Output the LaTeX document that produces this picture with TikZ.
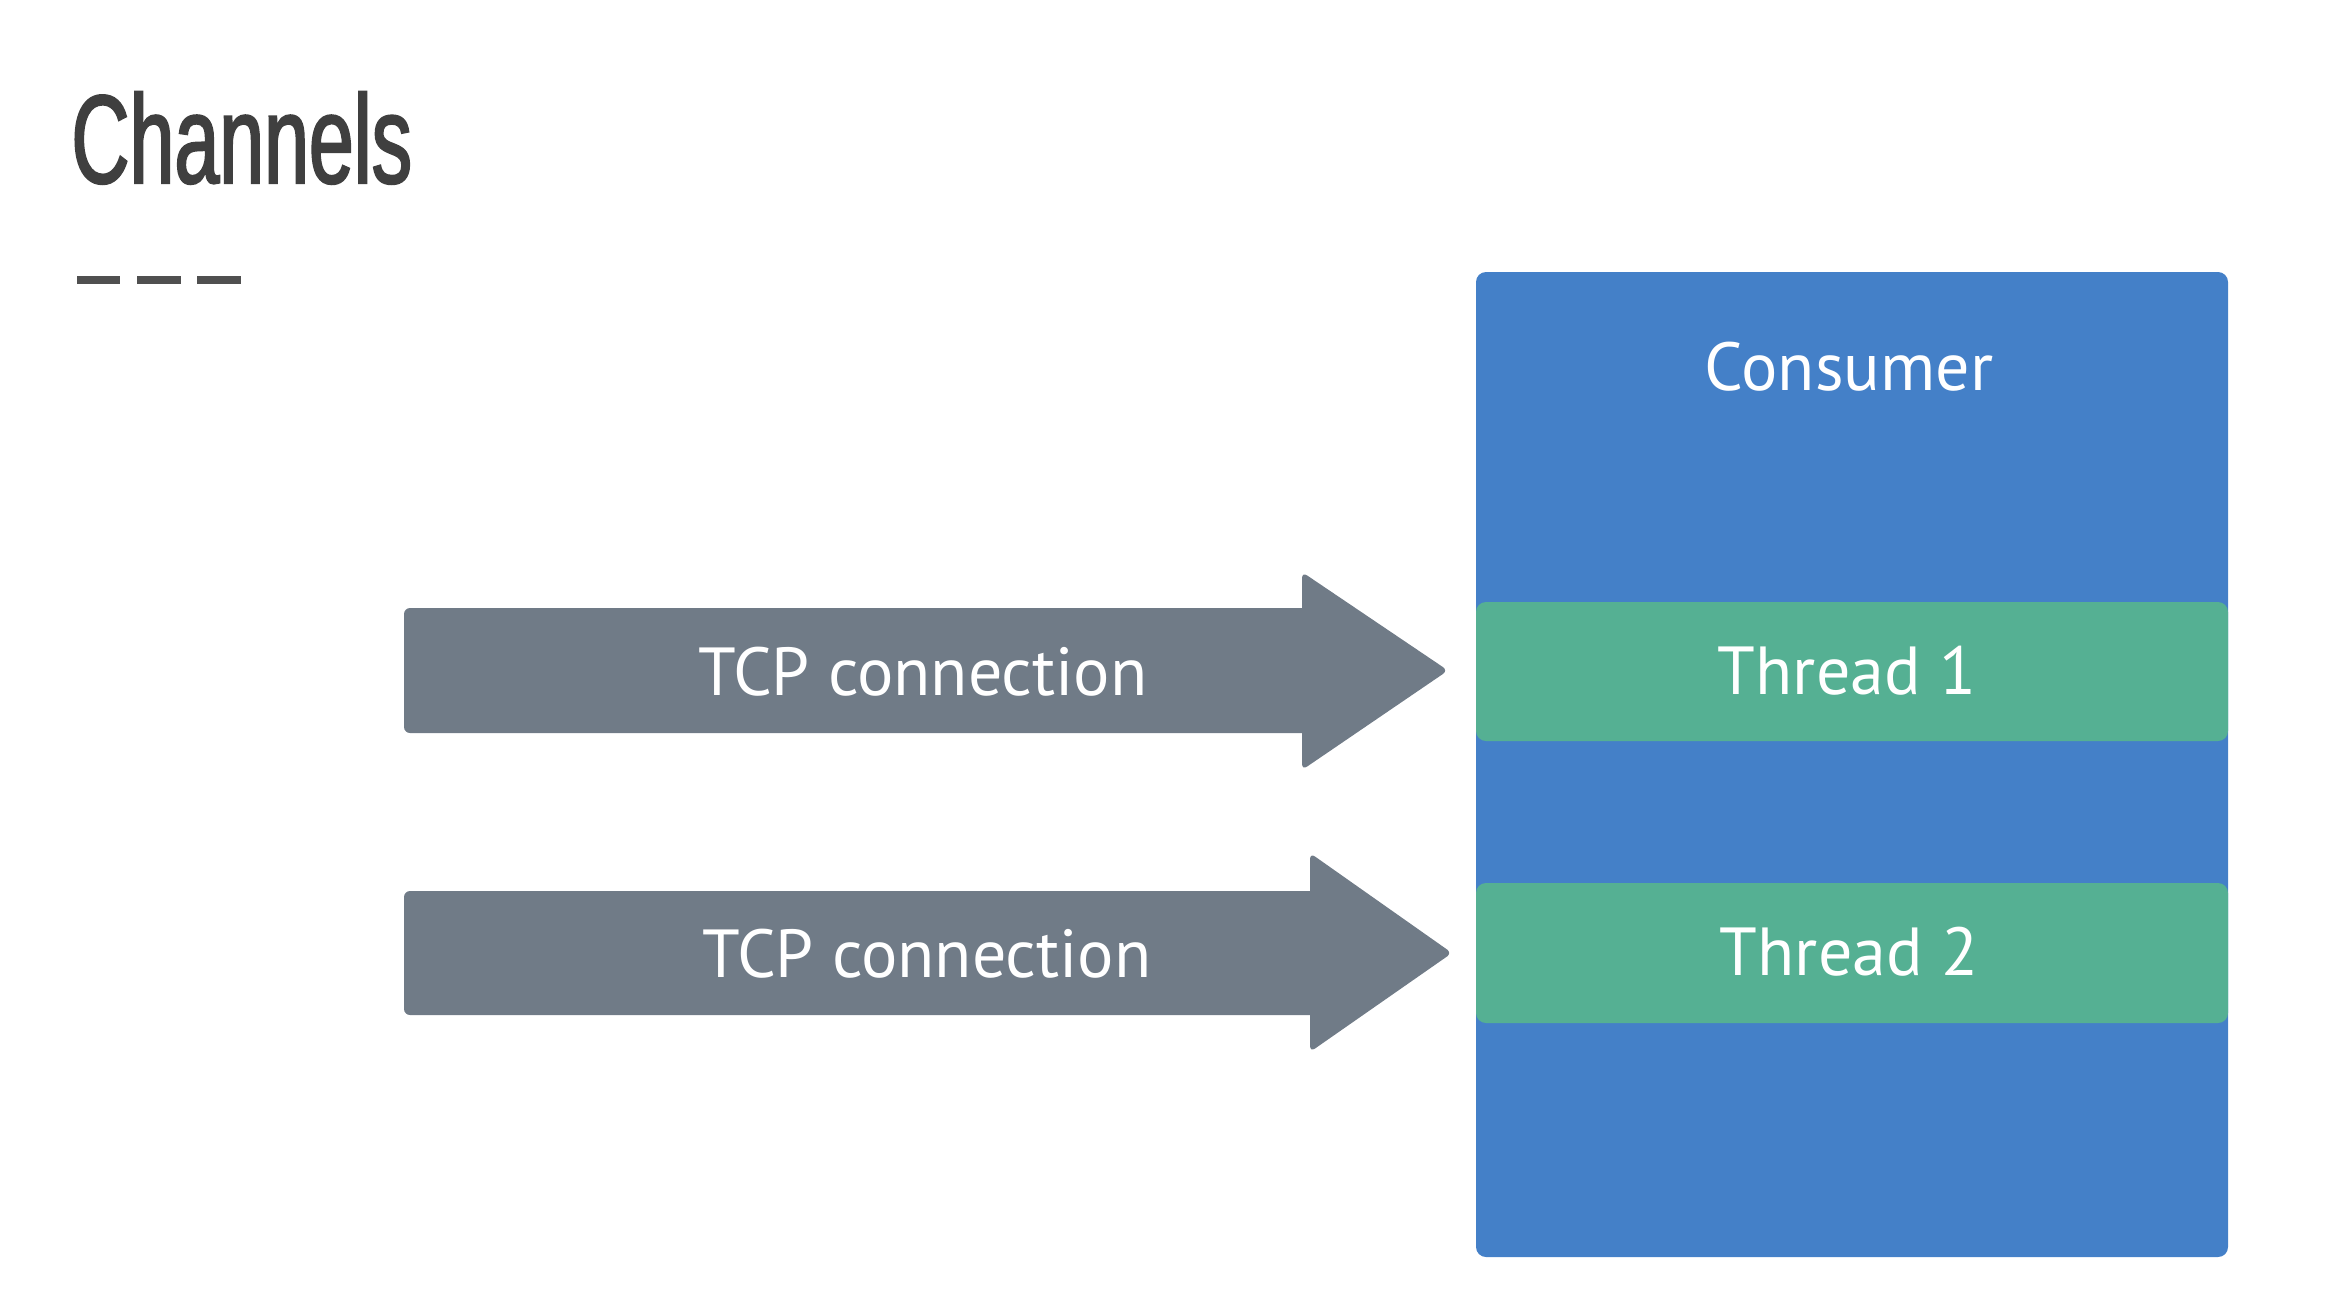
\documentclass[tikz,border=0pt]{standalone}
\usepackage{fontspec}
\setmainfont{PT Sans}
\newfontfamily\titlefont[FakeStretch=0.64,FakeBold=1.6]{Liberation Sans}
\definecolor{consumerblue}{HTML}{4480C8}
\definecolor{threadgreen}{HTML}{55B093}
\definecolor{pipegray}{HTML}{707B87}
\definecolor{titlegray}{HTML}{3F3F3F}
\definecolor{rulegray}{HTML}{505050}
\begin{document}
\begin{tikzpicture}[x=0.5pt,y=-0.5pt,
  label text/.style={text=white,font=\fontsize{34}{40}\selectfont,inner sep=0pt,anchor=base},
  pipe/.style={fill=pipegray},
  band/.style={fill=threadgreen,rounded corners=5pt},
  dashrule/.style={draw=rulegray,line width=4pt}]
\useasboundingbox (0,0) rectangle (2348,1306);

% title and its dashed underline
\node[anchor=base west,inner sep=0pt,text=titlegray,font=\titlefont\fontsize{63}{70}\selectfont] (title) at (71,183) {Channels};
\draw[dashrule] (77,280) -- (120,280) (137,280) -- (181,280) (197,280) -- (241,280);

% consumer box with its two thread bands
\fill[consumerblue,rounded corners=5pt] (1476,272) rectangle (2228,1257);
\node[label text] (consumer) at (1849,390) {Consumer};
\fill[band] (1476,602) rectangle (2228,741);
\fill[band] (1476,883) rectangle (2228,1023);
\node[label text] (thread1) at (1847,694) {Thread 1};
\node[label text] (thread2) at (1849,975) {Thread 2};

% block arrows for the TCP connections (rounded outer corners, sharp notches)
\fill[pipe] (404,670) [rounded corners=3pt] -- (404,608) [sharp corners] -- (1302,608)
  [rounded corners=3pt] -- (1302,572) -- (1448,670.5) -- (1302,770) [sharp corners] -- (1302,733)
  [rounded corners=3pt] -- (404,733) [sharp corners] -- cycle;
\node[label text] (tcp1) at (923,695) {TCP connection};
\fill[pipe] (404,953) [rounded corners=3pt] -- (404,891) [sharp corners] -- (1310,891)
  [rounded corners=3pt] -- (1310,853) -- (1452,953) -- (1310,1052) [sharp corners] -- (1310,1015)
  [rounded corners=3pt] -- (404,1015) [sharp corners] -- cycle;
\node[label text] (tcp2) at (927,977) {TCP connection};
\end{tikzpicture}
\end{document}
